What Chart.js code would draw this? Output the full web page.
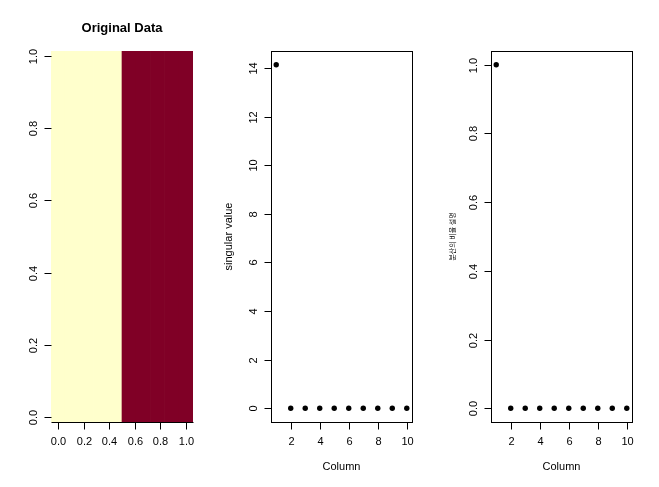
<!DOCTYPE html>
<html>
<head>
<meta charset="utf-8">
<script src="https://cdn.jsdelivr.net/npm/chart.js@4.4.1/dist/chart.umd.min.js"></script>
<style>
  html, body { margin: 0; padding: 0; background: #fff; }
  #wrap { position: relative; width: 659px; height: 487px; }
  canvas { position: absolute; left: 0; top: 0; }
</style>
</head>
<body>
<div id="wrap">
  <canvas id="heat" width="659" height="487"></canvas>
  <canvas id="sv" width="659" height="487"></canvas>
  <canvas id="prop" width="659" height="487"></canvas>
</div>
<script>
// matrice originale: 40 righe x 10 colonne
const heatColumns = [1, 2, 3, 4, 5, 6, 7, 8, 9, 10];
const heatValues = [0, 0, 0, 0, 0, 1, 1, 1, 1, 1];
const heatRows = 40;
const heatPalette = ["#FFFFCC", "#800026"];
const heatTicks = [0, 0.2, 0.4, 0.6, 0.8, 1.0];
const heatTickLabels = ["0.0", "0.2", "0.4", "0.6", "0.8", "1.0"];

// svd
const svdIndex = [1, 2, 3, 4, 5, 6, 7, 8, 9, 10];
const singularValues = [14.14, 0, 0, 0, 0, 0, 0, 0, 0, 0];
const varianceExplained = [1.0, 0, 0, 0, 0, 0, 0, 0, 0, 0];
const columnTicks = [2, 4, 6, 8, 10];
const svTicks = [0, 2, 4, 6, 8, 10, 12, 14];
const propTicks = [0, 0.2, 0.4, 0.6, 0.8, 1.0];
const propTickLabels = ["0.0", "0.2", "0.4", "0.6", "0.8", "1.0"];

const FONT = '"Liberation Sans", Arial, sans-serif';

// limiti stile R (4% in piu')
function rRange(vals) {
  const lo = Math.min(...vals), hi = Math.max(...vals);
  const d = (hi - lo) * 0.04;
  return { min: lo - d, max: hi + d };
}

// assi disegnati alla maniera di R
const rAxes = {
  id: "rAxes",
  afterDraw(chart, args, o) {
    const { ctx, chartArea: a } = chart;
    const xs = chart.scales.x, ys = chart.scales.y;
    const px = v => Math.round(v) + 0.5;
    const L = px(a.left), R = px(a.right), T = px(a.top), B = px(a.bottom);
    ctx.save();
    ctx.strokeStyle = "#000";
    ctx.fillStyle = "#000";
    ctx.lineWidth = 1;
    if (o.box) ctx.strokeRect(L, T, R - L, B - T);

    const xp = o.xTicks.map(v => px(xs.getPixelForValue(v)));
    const yp = o.yTicks.map(v => px(ys.getPixelForValue(v)));
    ctx.beginPath();
    if (o.xLine) { ctx.moveTo(L, B); ctx.lineTo(R, B); }
    xp.forEach(x => { ctx.moveTo(x, B); ctx.lineTo(x, B + 7); });
    yp.forEach(y => { ctx.moveTo(L, y); ctx.lineTo(L - 7, y); });
    ctx.stroke();

    ctx.font = "11px " + FONT;
    ctx.textAlign = "center";
    ctx.textBaseline = "middle";
    xp.forEach((x, i) => ctx.fillText(o.xLabels[i], x, a.bottom + 20));
    yp.forEach((y, i) => {
      ctx.save();
      ctx.translate(a.left - 17.5, y);
      ctx.rotate(-Math.PI / 2);
      ctx.fillText(o.yLabels[i], 0, 0);
      ctx.restore();
    });

    const cx = (a.left + a.right) / 2, cy = (a.top + a.bottom) / 2;
    if (o.title) {
      ctx.font = "bold 13px " + FONT;
      ctx.fillText(o.title, cx, 28);
    }
    if (o.xlab) {
      ctx.font = "11px " + FONT;
      ctx.fillText(o.xlab, cx, 467);
    }
    if (o.ylab) {
      ctx.font = o.ylabFont;
      ctx.save();
      ctx.translate(a.left - o.ylabOffset, cy);
      ctx.rotate(-Math.PI / 2);
      ctx.fillText(o.ylab, 0, 0);
      ctx.restore();
    }
    ctx.restore();
  }
};

const base = {
  responsive: false,
  animation: false,
  events: [],
  plugins: { legend: { display: false }, tooltip: { enabled: false } }
};

// pannello 1: immagine (colonne centrate su 0..1 come image() di R)
const nCol = heatColumns.length;
const colPos = heatColumns.map(c => (c - 1) / (nCol - 1));
const yLo = -0.5 / (heatRows - 1), yHi = 1 + 0.5 / (heatRows - 1);
const xHalf = 0.5 / (nCol - 1);
new Chart(document.getElementById("heat"), {
  type: "bar",
  data: {
    datasets: [{
      data: colPos.map(x => ({ x: x, y: [yLo, yHi] })),
      backgroundColor: heatValues.map(v => heatPalette[v]),
      borderWidth: 0,
      barPercentage: 1,
      categoryPercentage: 1
    }]
  },
  options: {
    ...base,
    layout: { padding: { left: 51, right: 466, top: 51, bottom: 65 } },
    scales: {
      x: { type: "linear", offset: false, min: -xHalf, max: 1 + xHalf, display: false },
      y: { type: "linear", min: yLo, max: yHi, display: false }
    },
    plugins: {
      ...base.plugins,
      rAxes: {
        xTicks: heatTicks, xLabels: heatTickLabels,
        yTicks: heatTicks, yLabels: heatTickLabels,
        xLine: true, box: false, title: "Original Data"
      }
    }
  },
  plugins: [rAxes]
});

// pannelli 2 e 3: punti
function dotChart(id, values, ticks, tickLabels, padLeft, padRight, ylab, ylabFont, ylabOffset) {
  const xr = rRange(svdIndex), yr = rRange(values);
  new Chart(document.getElementById(id), {
    type: "scatter",
    data: {
      datasets: [{
        data: svdIndex.map((x, i) => ({ x: x, y: values[i] })),
        backgroundColor: "#000",
        borderColor: "#000",
        borderWidth: 0,
        pointRadius: 2.7
      }]
    },
    options: {
      ...base,
      layout: { padding: { left: padLeft, right: padRight, top: 51, bottom: 65 } },
      scales: {
        x: { type: "linear", min: xr.min, max: xr.max, display: false },
        y: { type: "linear", min: yr.min, max: yr.max, display: false }
      },
      plugins: {
        ...base.plugins,
        rAxes: {
          xTicks: columnTicks, xLabels: columnTicks.map(String),
          yTicks: ticks, yLabels: tickLabels,
          xLine: false, box: true, xlab: "Column",
          ylab: ylab, ylabFont: ylabFont, ylabOffset: ylabOffset
        }
      }
    },
    plugins: [rAxes]
  });
}

dotChart("sv", singularValues, svTicks, svTicks.map(String), 271, 247,
  "singular value", "11px " + FONT, 42);
dotChart("prop", varianceExplained, propTicks, propTickLabels, 491, 27,
  "분산의 비율 설명", '7px "Noto Sans CJK KR"', 39);
</script>
</body>
</html>
